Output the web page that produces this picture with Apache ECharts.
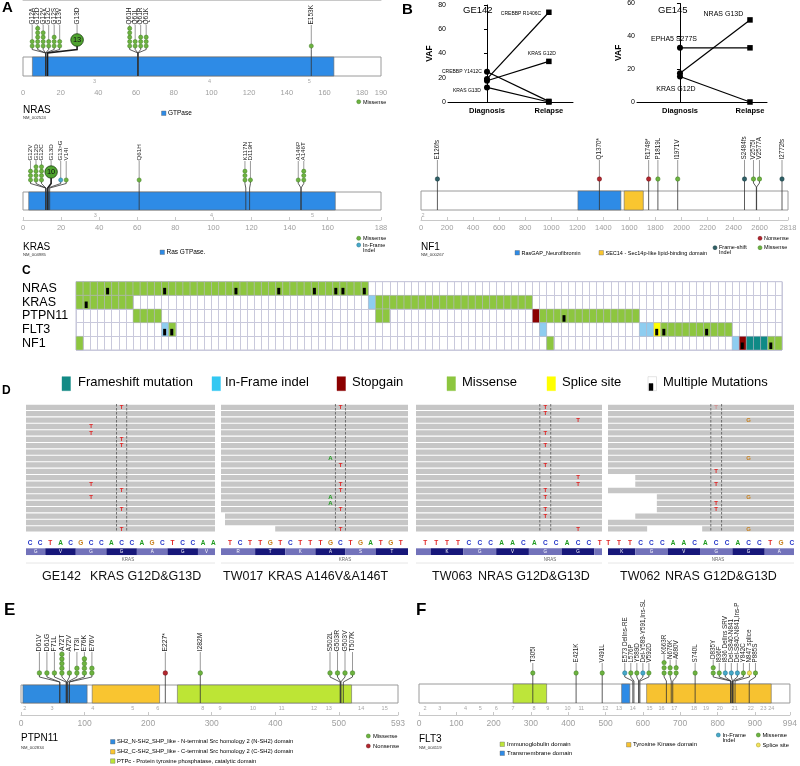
<!DOCTYPE html>
<html>
<head>
<meta charset="utf-8">
<title>RAS pathway mutations</title>
<script src="https://cdn.jsdelivr.net/npm/echarts@6.0.0/dist/echarts.min.js"></script>
<style>
  html, body { margin: 0; padding: 0; background: #fff; }
  #main { width: 800px; height: 766px; }
</style>
</head>
<body>
<div id="main"></div>
<script>
var FONT = '"Liberation Sans", Arial, sans-serif';

// ---------- A: lollipop data  [aa, label, count, type] ----------
var nrasTicks = [0, 20, 40, 60, 80, 100, 120, 140, 160, 180, 190];
var nrasDomains = [[5, 165]];
var nrasExons = [[38, '3'], [99, '4'], [152, '5']];
var nrasMutations = [
  [12, 'G12A', 2, 'mis'], [12, 'G12D', 5, 'mis'], [12, 'G12V', 4, 'mis'], [12, 'G12C', 2, 'mis'],
  [12, 'G12S', 3, 'mis'], [13, 'G13V', 2, 'mis'], [13, 'G13D', 13, 'mis'],
  [61, 'Q61H', 5, 'mis'], [61, 'Q61L', 2, 'mis'], [61, 'Q61R', 3, 'mis'], [61, 'Q61K', 3, 'mis'],
  [153, 'E153K', 1, 'mis']
];

var krasTicks = [0, 20, 40, 60, 80, 100, 120, 140, 160, 188];
var krasDomains = [[3, 164]];
var krasExons = [[38, '3'], [99, '4'], [152, '5']];
var krasMutations = [
  [12, 'G12V', 3, 'mis'], [12, 'G12D', 4, 'mis'], [12, 'G12C', 4, 'mis'], [13, 'G13D', 10, 'mis'],
  [13, 'G13>G', 1, 'inf'], [14, 'V14I', 1, 'mis'], [61, 'Q61H', 1, 'mis'],
  [117, 'K117N', 3, 'mis'], [119, 'D119H', 1, 'mis'], [146, 'A146P', 1, 'mis'], [146, 'A146T', 3, 'mis']
];

// ---------- B: NF1 + VAF ----------
var nf1Ticks = [0, 200, 400, 600, 800, 1000, 1200, 1400, 1600, 1800, 2000, 2200, 2400, 2600, 2818];
var nf1Domains = [[1205, 1535], [1560, 1707]];
var nf1Exons = [[15, '2']];
var nf1Mutations = [
  [126, 'E126fs', 1, 'fs'], [1370, 'Q1370*', 1, 'non'], [1748, 'R1748*', 1, 'non'],
  [1819, 'P1819L', 1, 'mis'], [1971, 'I1971V', 1, 'mis'], [2484, 'S2484fs', 1, 'fs'],
  [2575, 'V2575I', 1, 'mis'], [2577, 'V2577A', 1, 'mis'], [2772, 'I2772fs', 1, 'fs']
];

var timepoints = ['Diagnosis', 'Relapse'];
var ge142Names = ['CREBBP R1406C', 'KRAS G12D', 'CREBBP Y1412C', 'KRAS G13D'];
var ge142Diagnosis = [19, 17.5, 25, 12];
var ge142Relapse = [74, 33.5, 0.5, 0];
var ge145Names = ['NRAS G13D', 'EPHA5 S277S', 'KRAS G12D'];
var ge145Diagnosis = [17.5, 33, 15.5];
var ge145Relapse = [50, 33, 0];

// ---------- C: oncoprint ----------
var genes = ['NRAS', 'KRAS', 'PTPN11', 'FLT3', 'NF1'];
var sampleCount = 99;
var mutTypes = ['Frameshift mutation', 'In-Frame indel', 'Stopgain', 'Missense', 'Splice site', 'Multiple Mutations'];
// runs of samples: [first, last, type index]
var nrasRuns = [[0, 40, 3]];
var krasRuns = [[0, 7, 3], [41, 41, 1], [42, 63, 3]];
var ptpn11Runs = [[8, 11, 3], [42, 43, 3], [64, 64, 2], [65, 78, 3]];
var flt3Runs = [[12, 12, 1], [13, 13, 3], [65, 65, 1], [79, 80, 1], [81, 81, 4], [82, 91, 3]];
var nf1Runs = [[0, 0, 3], [66, 66, 3], [92, 92, 1], [93, 93, 2], [94, 96, 0], [97, 98, 3]];
var nrasMulti = [4, 12, 22, 28, 33, 36, 37, 40];
var krasMulti = [1];
var ptpn11Multi = [68];
var flt3Multi = [12, 13, 81, 82, 88];
var nf1Multi = [93, 97];

// ---------- D: read pileups ----------
var ge142Seq = 'CCTACGCCACCAGCTCCAA';
var ge142Codons = [2, 5, 8, 11, 14, 17];
var ge142Amino = ['G', 'V', 'G', 'G', 'A', 'G', 'V'];
var ge142Mismatch = [[0, 9, 'T'], [3, 6, 'T'], [4, 6, 'T'], [5, 9, 'T'], [6, 9, 'T'], [12, 6, 'T'],
  [13, 9, 'T'], [14, 6, 'T'], [16, 9, 'T'], [19, 9, 'T']];
var ge142Reads = [];

var tw017Seq = 'TCTTGTCTTTGCTGATGT';
var tw017Codons = [3, 6, 9, 12, 15];
var tw017Amino = ['R', 'T', 'K', 'A', 'S', 'T'];
var tw017Mismatch = [[0, 11, 'T'], [8, 10, 'A'], [9, 11, 'T'], [12, 11, 'T'], [13, 11, 'T'],
  [14, 10, 'A'], [15, 10, 'A'], [16, 11, 'T'], [19, 11, 'T']];
var tw017Reads = [[17, 0, null], [18, 0, null], [19, 5, null]];

var tw063Seq = 'TTTTCCCAACACCACCT';
var tw063Codons = [1, 4, 7, 10, 13, 16];
var tw063Amino = ['', 'K', 'G', 'V', 'G', 'G', ''];
var tw063Mismatch = [[0, 11, 'T'], [1, 11, 'T'], [2, 14, 'T'], [4, 11, 'T'], [6, 11, 'T'], [9, 11, 'T'],
  [11, 14, 'T'], [12, 14, 'T'], [13, 11, 'T'], [14, 11, 'T'], [16, 11, 'T'], [17, 11, 'T'], [19, 14, 'T']];
var tw063Reads = [];

var tw062Seq = 'TTTCCCAACACCACCTGC';
var tw062Codons = [3, 6, 9, 12, 15];
var tw062Amino = ['K', 'G', 'V', 'G', 'G', 'A'];
var tw062Mismatch = [[0, 10, 'T', 0.35], [2, 13, 'G'], [8, 13, 'G'], [10, 10, 'T'], [12, 10, 'T'],
  [14, 13, 'G'], [15, 10, 'T'], [16, 10, 'T'], [19, 13, 'G']];
var tw062Reads = [[11, 3, null], [12, 3, null], [14, 5, null], [15, 5, null], [16, 5, null],
  [17, 3, null], [19, null, 4.1], [19, 9.2, null]];

// ---------- E / F ----------
var ptpn11Ticks = [0, 100, 200, 300, 400, 500, 593];
var ptpn11Domains = [[3, 104], [112, 218], [246, 520]];
var ptpn11Exons = [[6, '2'], [49, '3'], [113, '4'], [176, '5'], [215, '6'], [286, '8'], [313, '9'],
  [365, '10'], [410, '11'], [461, '12'], [484, '13'], [535, '14'], [572, '15']];
var ptpn11Mutations = [
  [61, 'D61V', 1, 'mis'], [61, 'D61G', 1, 'mis'], [71, 'F71L', 1, 'mis'], [72, 'A72T', 5, 'mis'],
  [72, 'A72V', 1, 'mis'], [73, 'T73I', 2, 'mis'], [76, 'E76K', 4, 'mis'], [76, 'E76V', 2, 'mis'],
  [227, 'E227*', 1, 'non'], [282, 'I282M', 1, 'mis'], [502, 'S502L', 1, 'mis'], [503, 'G503R', 1, 'mis'],
  [503, 'G503V', 1, 'mis'], [507, 'T507K', 1, 'mis']
];

var flt3Ticks = [0, 100, 200, 300, 400, 500, 600, 700, 800, 900, 994];
var flt3Domains = [[252, 342], [543, 565], [610, 944]];
var flt3Exons = [[16, '2'], [56, '3'], [125, '4'], [164, '5'], [207, '6'], [252, '7'], [308, '8'],
  [345, '9'], [398, '10'], [435, '11'], [499, '12'], [536, '13'], [573, '14'], [618, '15'], [650, '16'],
  [684, '17'], [737, '18'], [769, '19'], [806, '20'], [846, '21'], [889, '22'], [923, '23'], [944, '24']];
var flt3Mutations = [
  [305, 'T305I', 1, 'mis'], [421, 'E421K', 1, 'mis'], [491, 'V491L', 1, 'mis'],
  [573, 'E573 DelIns-RE', 1, 'inf'], [576, 'L576P', 1, 'mis'], [589, 'Y589D', 1, 'mis'],
  [589, 'Del-Y589-Y591,Ins-SL', 1, 'inf'], [592, 'V592D', 1, 'mis'], [663, 'K663R', 3, 'mis'],
  [676, 'N676K', 2, 'mis'], [680, 'A680V', 2, 'mis'], [740, 'S740L', 1, 'mis'], [835, 'D835Y', 2, 'mis'],
  [836, 'I836F', 1, 'mis'], [836, 'I836 DelIns SRV', 1, 'inf'], [840, 'Del-S840-N841', 1, 'inf'],
  [840, 'Del-S840-N841,Ins-P', 1, 'inf'], [842, 'Y842C', 1, 'mis'], [847, 'N847 splice', 1, 'spl'],
  [885, 'P885S', 1, 'mis']
];

// ---------- styles ----------
var typeColor = { mis: '#6db33f', inf: '#46a9c9', non: '#b3262e', fs: '#2f5f66', spl: '#f2e35c' };
var typeEdge = { mis: '#3c7a20', inf: '#1f6f8a', non: '#6e1015', fs: '#15383d', spl: '#a89a20' };
var cellColor = ['#0f8a86', '#8ecdf0', '#8b0000', '#8dc63f', '#ffff00'];
var legendColor = ['#138a85', '#33c8f2', '#8b0000', '#8dc63f', '#ffff00'];
var baseColor = { A: '#1e9a1e', C: '#2233c8', G: '#c8801e', T: '#e02424' };

var grids = [], xAxes = [], yAxes = [], series = [], graphics = [];

function gText(x, y, text, size, extra) {
  var st = { text: text, fontSize: size, fontFamily: FONT, fill: '#000', align: 'left', verticalAlign: 'middle' };
  if (extra) { for (var k in extra) st[k] = extra[k]; }
  return { type: 'text', x: x, y: y, silent: true, style: st, z: 10 };
}
function gRect(x, y, w, h, fill, stroke) {
  return { type: 'rect', silent: true, z: 10, shape: { x: x, y: y, width: w, height: h },
    style: { fill: fill, stroke: stroke || '#666', lineWidth: 0.4 } };
}
function gDot(x, y, t) {
  return { type: 'circle', silent: true, z: 10, shape: { cx: x, cy: y, r: 2 },
    style: { fill: typeColor[t], stroke: typeEdge[t], lineWidth: 0.5 } };
}

// spread lollipop heads so they don't overlap (clusters centred on their natural positions)
function spreadHeads(muts, pxPerAa, cfg) {
  var items = muts.map(function (m, i) {
    var big = m[2] >= cfg.bigMin;
    return { i: i, nat: m[0] * pxPerAa, rad: big ? cfg.bigR : cfg.r, big: big };
  });
  function sep(a, b) {
    return a.rad + b.rad + ((a.big || b.big) ? cfg.bigGap : cfg.gap);
  }
  var clusters = items.map(function (it) { return { members: [it] }; });
  function place(c) {
    var offs = [0];
    for (var k = 1; k < c.members.length; k++) {
      offs.push(offs[k - 1] + sep(c.members[k - 1], c.members[k]));
    }
    var small = c.members.filter(function (m) { return !m.big; }).length > 0;
    var sn = 0, so = 0, cnt = 0;
    c.members.forEach(function (m, k) {
      if (small && m.big) return;
      sn += m.nat; so += offs[k]; cnt++;
    });
    var L = sn / cnt - so / cnt;
    c.pos = offs.map(function (o) { return L + o; });
  }
  clusters.forEach(place);
  var merged = true;
  while (merged) {
    merged = false;
    for (var k = 0; k < clusters.length - 1; k++) {
      var a = clusters[k], b = clusters[k + 1];
      var la = a.members[a.members.length - 1], fb = b.members[0];
      if (a.pos[a.pos.length - 1] + sep(la, fb) > b.pos[0] + 1e-6) {
        a.members = a.members.concat(b.members);
        place(a);
        clusters.splice(k + 1, 1);
        merged = true;
        break;
      }
    }
  }
  var out = [];
  clusters.forEach(function (c) {
    c.members.forEach(function (m, k) { out[m.i] = c.pos[k] / pxPerAa; });
  });
  return out;
}

function addLollipop(cfg) {
  var g = grids.length;
  grids.push({ left: cfg.left, top: cfg.top, width: cfg.width, height: cfg.axisY - cfg.top });
  xAxes.push({
    type: 'value', gridIndex: g, min: 0, max: cfg.len,
    axisLine: { show: true, lineStyle: { color: '#c8c8c8', width: 1 } },
    axisTick: { show: true, inside: true, length: 3, lineStyle: { color: '#c8c8c8' }, customValues: cfg.ticks },
    axisLabel: { show: true, color: '#a0a0a0', fontSize: cfg.tickFs, fontFamily: FONT, margin: 4,
      customValues: cfg.ticks, formatter: function (v) { return String(v); } },
    splitLine: { show: false }
  });
  yAxes.push({ type: 'value', gridIndex: g, min: cfg.top, max: cfg.axisY, inverse: true, show: false });

  // protein backbone
  series.push({
    type: 'custom', xAxisIndex: g, yAxisIndex: g, z: 2, silent: true,
    data: [[0, cfg.len, cfg.barTop]], encode: { x: [0, 1], y: 2 },
    renderItem: function (params, api) {
      var p0 = api.coord([api.value(0), cfg.barTop]);
      var p1 = api.coord([api.value(1), cfg.barBot]);
      return { type: 'rect', shape: { x: p0[0], y: p0[1], width: p1[0] - p0[0], height: p1[1] - p0[1] },
        style: { fill: '#fff', stroke: '#9a9a9a', lineWidth: 1 } };
    }
  });
  // domains
  series.push({
    type: 'custom', xAxisIndex: g, yAxisIndex: g, z: 3, silent: true,
    data: cfg.domains.map(function (d, i) { return [d[0], d[1], cfg.barTop, i]; }),
    encode: { x: [0, 1], y: 2 },
    renderItem: function (params, api) {
      var p0 = api.coord([api.value(0), cfg.barTop]);
      var p1 = api.coord([api.value(1), cfg.barBot]);
      return { type: 'rect', shape: { x: p0[0], y: p0[1], width: p1[0] - p0[0], height: p1[1] - p0[1] },
        style: { fill: cfg.domainColors[api.value(3)], stroke: '#6a6a6a', lineWidth: 0.6 } };
    }
  });
  // exon numbers
  series.push({
    type: 'custom', xAxisIndex: g, yAxisIndex: g, z: 3, silent: true,
    data: cfg.exons.map(function (e, i) { return [e[0], cfg.exonY, i]; }),
    encode: { x: 0, y: 1 },
    renderItem: function (params, api) {
      var p = api.coord([api.value(0), cfg.exonY]);
      return { type: 'text', x: p[0], y: p[1],
        style: { text: cfg.exons[api.value(2)][1], fontSize: 5.5, fontFamily: FONT, fill: '#a8a8a8',
          align: 'center', verticalAlign: 'middle' } };
    }
  });
  // mutations
  var heads = spreadHeads(cfg.muts, cfg.width / cfg.len, cfg);
  series.push({
    type: 'custom', xAxisIndex: g, yAxisIndex: g, z: 4, silent: true,
    data: cfg.muts.map(function (m, i) { return [m[0], heads[i], i, cfg.headBase]; }),
    encode: { x: [0, 1], y: 3 },
    renderItem: function (params, api) {
      var i = api.value(2);
      var m = cfg.muts[i];
      var big = m[2] >= cfg.bigMin;
      var rr = big ? cfg.bigR : cfg.r;
      var topY = big ? cfg.headBase - cfg.bigUp : cfg.headBase - (m[2] - 1) * cfg.step;
      var lb = Math.min(cfg.labelBottom, topY - rr - cfg.labelGap);
      var pBar = api.coord([m[0], cfg.barBot]);
      var pEl = api.coord([m[0], cfg.diagBot]);
      var pDg = api.coord([heads[i], cfg.diagTop]);
      var pHd = api.coord([heads[i], big ? topY : cfg.headBase]);
      var pLb = api.coord([heads[i], lb]);
      var pTp = api.coord([heads[i], topY]);
      var kids = [
        { type: 'polyline', shape: { points: [pBar, pEl, pDg, pHd] },
          style: { stroke: big ? '#1a1a1a' : '#333', lineWidth: big ? 1.6 : 0.8, fill: null } },
        { type: 'line', shape: { x1: pTp[0], y1: pTp[1], x2: pLb[0], y2: pLb[1] },
          style: { stroke: '#555', lineWidth: 0.6 } }
      ];
      if (big) {
        kids.push({ type: 'circle', shape: { cx: pTp[0], cy: pTp[1], r: cfg.bigR },
          style: { fill: '#4fa32f', stroke: '#1c3f10', lineWidth: 0.8 } });
        kids.push({ type: 'text', x: pTp[0], y: pTp[1],
          style: { text: String(m[2]), fontSize: 7.5, fontFamily: FONT, fill: '#111', align: 'center', verticalAlign: 'middle' } });
      } else {
        for (var k = 0; k < m[2]; k++) {
          var c = api.coord([heads[i], cfg.headBase - k * cfg.step]);
          kids.push({ type: 'circle', shape: { cx: c[0], cy: c[1], r: cfg.r },
            style: { fill: typeColor[m[3]], stroke: typeEdge[m[3]], lineWidth: 0.5 } });
        }
      }
      kids.push({ type: 'text', x: pLb[0], y: pLb[1] - 0.5, rotation: Math.PI / 2,
        style: { text: m[1], fontSize: cfg.fs, fontFamily: FONT, fill: '#222', align: 'left', verticalAlign: 'middle' } });
      return { type: 'group', children: kids };
    }
  });
}

addLollipop({ muts: nrasMutations, domains: nrasDomains, exons: nrasExons, ticks: nrasTicks, len: 190,
  left: 23, width: 358, top: 0, axisY: 85, barTop: 57, barBot: 76, headBase: 46, r: 2.1, step: 4.4, gap: 1.3,
  bigGap: 9, labelBottom: 25, labelGap: 0.5, diagTop: 49.5, diagBot: 53, exonY: 81, bigMin: 8, bigR: 6.3, bigUp: 6,
  fs: 6.5, tickFs: 7.5, domainColors: ['#2e8be6'] });
addLollipop({ muts: krasMutations, domains: krasDomains, exons: krasExons, ticks: krasTicks, len: 188,
  left: 23, width: 358, top: 120, axisY: 220, barTop: 192, barBot: 210, headBase: 180, r: 2.1, step: 4.4, gap: 1.3,
  bigGap: 1.3, labelBottom: 161, labelGap: 1.5, diagTop: 183.5, diagBot: 188, exonY: 215.5, bigMin: 8, bigR: 6.2, bigUp: 8,
  fs: 6.2, tickFs: 7.5, domainColors: ['#2e8be6'] });
addLollipop({ muts: nf1Mutations, domains: nf1Domains, exons: nf1Exons, ticks: nf1Ticks, len: 2818,
  left: 421, width: 367, top: 120, axisY: 220, barTop: 191, barBot: 210, headBase: 179, r: 2.2, step: 4.4, gap: 1.6,
  bigGap: 1.6, labelBottom: 160, labelGap: 1.5, diagTop: 183, diagBot: 187, exonY: 215, bigMin: 8, bigR: 6, bigUp: 7,
  fs: 6.3, tickFs: 7.5, domainColors: ['#2e8be6', '#f9c630'] });
addLollipop({ muts: ptpn11Mutations, domains: ptpn11Domains, exons: ptpn11Exons, ticks: ptpn11Ticks, len: 593,
  left: 21, width: 377, top: 585, axisY: 715, barTop: 685, barBot: 703, headBase: 673, r: 2.3, step: 4.7, gap: 2.9,
  bigGap: 2.9, labelBottom: 652, labelGap: 0.5, diagTop: 677, diagBot: 682, exonY: 708, bigMin: 8, bigR: 6, bigUp: 7,
  fs: 6.8, tickFs: 8.5, domainColors: ['#2f8be0', '#f9c530', '#bde535'] });
addLollipop({ muts: flt3Mutations, domains: flt3Domains, exons: flt3Exons, ticks: flt3Ticks, len: 994,
  left: 419, width: 375, top: 585, axisY: 715, barTop: 684, barBot: 703, headBase: 673, r: 2.2, step: 5.2, gap: 1.7,
  bigGap: 1.7, labelBottom: 663, labelGap: 6, diagTop: 677, diagBot: 681, exonY: 708, bigMin: 8, bigR: 6, bigUp: 7,
  fs: 6.3, tickFs: 8.5, domainColors: ['#bde53a', '#2e8be6', '#f7c230'] });

// ---------- B: VAF plots ----------
function addVaf(cfg) {
  var g = grids.length;
  grids.push({ left: cfg.left, top: cfg.top, width: cfg.width, height: cfg.height });
  xAxes.push({
    type: 'value', gridIndex: g, min: cfg.xmin, max: cfg.xmax,
    axisLine: { show: true, onZero: false, lineStyle: { color: '#000', width: 1 } },
    axisTick: { show: false },
    axisLabel: { show: true, customValues: [0, 1], margin: 5, fontSize: 7.5, fontWeight: 'bold', color: '#000',
      fontFamily: FONT, formatter: function (v) { return timepoints[Math.round(v)]; } },
    splitLine: { show: false }
  });
  yAxes.push({
    type: 'value', gridIndex: g, min: 0, max: cfg.ymax, interval: 20,
    axisLine: { show: true, lineStyle: { color: '#000', width: 1 } },
    axisTick: { show: true, length: 3, lineStyle: { color: '#000' } },
    axisLabel: { fontSize: 7, color: '#000', margin: 2, fontFamily: FONT },
    splitLine: { show: false },
    name: 'VAF', nameLocation: 'middle', nameGap: 13,
    nameTextStyle: { fontWeight: 'bold', fontSize: 8.5, color: '#000', fontFamily: FONT }
  });
  cfg.names.forEach(function (nm, i) {
    var lc = cfg.labels[i];
    var pts = [[0, cfg.diag[i]], [1, cfg.rel[i]]].map(function (v, k) {
      var item = { value: v, symbol: k === 0 ? 'circle' : 'rect', symbolSize: k === 0 ? 6 : 5.5 };
      if (k === lc.pt) {
        item.label = { show: true, formatter: nm, position: lc.pos, offset: lc.off, distance: lc.dist,
          fontSize: cfg.fs, color: '#000', fontFamily: FONT };
      }
      return item;
    });
    series.push({ type: 'line', xAxisIndex: g, yAxisIndex: g, data: pts, z: 5, silent: true,
      lineStyle: { color: '#000', width: 1.2 }, itemStyle: { color: '#000' }, label: { show: false } });
  });
  graphics.push(gText(cfg.titleX, cfg.titleY, cfg.title, 9.5));
}
addVaf({ left: 448, top: 5, width: 125, height: 97, xmin: -0.63, xmax: 1.39, ymax: 80,
  names: ge142Names, diag: ge142Diagnosis, rel: ge142Relapse, fs: 5, title: 'GE142', titleX: 463, titleY: 10,
  labels: [
    { pt: 1, pos: 'left', off: [0, 1], dist: 5 },
    { pt: 1, pos: 'top', off: [-7, 0], dist: 3 },
    { pt: 0, pos: 'left', off: [0, 0], dist: 2 },
    { pt: 0, pos: 'left', off: [0, 3], dist: 3 }
  ] });
addVaf({ left: 637, top: 3, width: 130, height: 99, xmin: -0.614, xmax: 1.243, ymax: 60,
  names: ge145Names, diag: ge145Diagnosis, rel: ge145Relapse, fs: 7, title: 'GE145', titleX: 658, titleY: 10,
  labels: [
    { pt: 1, pos: 'left', off: [0, -6], dist: 4 },
    { pt: 0, pos: 'top', off: [-6, 0], dist: 2 },
    { pt: 0, pos: 'bottom', off: [-4, 3], dist: 3 }
  ] });

// ---------- C: oncoprint ----------
(function () {
  var g = grids.length;
  grids.push({ left: 76, top: 281.7, width: 706, height: 68.3, show: true, borderColor: '#c4c4d6', borderWidth: 1 });
  xAxes.push({ type: 'value', gridIndex: g, min: 0, max: sampleCount, interval: 1,
    axisLine: { show: false }, axisTick: { show: false }, axisLabel: { show: false },
    splitLine: { show: true, lineStyle: { color: '#c9c9dc', width: 1 } } });
  yAxes.push({ type: 'category', gridIndex: g, data: genes, inverse: true,
    axisLine: { show: false }, axisTick: { show: false },
    axisLabel: { interval: 0, align: 'left', margin: 54, fontSize: 12.5, color: '#000', fontFamily: FONT },
    splitLine: { show: true, interval: 0, lineStyle: { color: '#c9c9dc', width: 1 } } });
  var runs = [nrasRuns, krasRuns, ptpn11Runs, flt3Runs, nf1Runs];
  var multis = [nrasMulti, krasMulti, ptpn11Multi, flt3Multi, nf1Multi];
  var cells = [], marks = [];
  runs.forEach(function (rs, gi) {
    rs.forEach(function (r) { for (var c = r[0]; c <= r[1]; c++) cells.push([c, gi, r[2]]); });
  });
  multis.forEach(function (ms, gi) { ms.forEach(function (c) { marks.push([c, gi]); }); });
  series.push({ type: 'custom', xAxisIndex: g, yAxisIndex: g, z: 3, silent: true, data: cells,
    encode: { x: 0, y: 1 },
    renderItem: function (params, api) {
      var p = api.coord([api.value(0), api.value(1)]);
      var sz = api.size([1, 1]);
      return { type: 'rect', shape: { x: p[0], y: p[1] - sz[1] / 2, width: sz[0], height: sz[1] },
        style: { fill: cellColor[api.value(2)], stroke: '#b4b4c4', lineWidth: 0.5 } };
    } });
  series.push({ type: 'custom', xAxisIndex: g, yAxisIndex: g, z: 4, silent: true, data: marks,
    encode: { x: 0, y: 1 },
    renderItem: function (params, api) {
      var p = api.coord([api.value(0), api.value(1)]);
      var sz = api.size([1, 1]);
      return { type: 'rect', shape: { x: p[0] + sz[0] * 0.22, y: p[1] - sz[1] * 0.05, width: sz[0] * 0.42, height: sz[1] * 0.48 },
        style: { fill: '#000' } };
    } });
  // legend
  var lx = [[62, 78], [212, 225], [337, 352], [447, 462], [547, 562], [648, 663]];
  mutTypes.forEach(function (t, i) {
    if (i < 5) {
      graphics.push(gRect(lx[i][0], 376.7, 8.5, 14, legendColor[i], legendColor[i]));
    } else {
      graphics.push(gRect(lx[i][0], 376.7, 8.5, 14, '#fff', '#bbb'));
      graphics.push(gRect(lx[i][0] + 1, 383.5, 4, 7, '#000', '#000'));
    }
    graphics.push(gText(lx[i][1], 382, t, 13));
  });
})();

// ---------- D: read pileups ----------
var snapshots = [
  { seq: ge142Seq, codons: ge142Codons, amino: ge142Amino, mism: ge142Mismatch, reads: ge142Reads, site: 9,
    left: 26, right: 215, base0: 24.9, bw: 10.18, darkFirst: false, gene: 'KRAS', geneX: 128,
    sample: 'GE142', caption: 'KRAS G12D&G13D', capX: 42, capX2: 90 },
  { seq: tw017Seq, codons: tw017Codons, amino: tw017Amino, mism: tw017Mismatch, reads: tw017Reads, site: 11,
    left: 221, right: 408, base0: 225, bw: 10.04, darkFirst: false, gene: 'KRAS', geneX: 345,
    sample: 'TW017', caption: 'KRAS A146V&A146T', capX: 223, capX2: 268 },
  { seq: tw063Seq, codons: tw063Codons, amino: tw063Amino, mism: tw063Mismatch, reads: tw063Reads, site: 11,
    left: 416, right: 602, base0: 419.8, bw: 10.91, darkFirst: false, gene: 'NRAS', geneX: 550,
    sample: 'TW063', caption: 'NRAS G12D&G13D', capX: 432, capX2: 478 },
  { seq: tw062Seq, codons: tw062Codons, amino: tw062Amino, mism: tw062Mismatch, reads: tw062Reads, site: 10,
    left: 608, right: 794, base0: 602.9, bw: 10.79, darkFirst: true, gene: 'NRAS', geneX: 718,
    sample: 'TW062', caption: 'NRAS G12D&G13D', capX: 620, capX2: 665 }
];
var READ_ROWS = 20, SEQ_ROW = 21.77, AA_TOP = 22.55, AA_BOT = 23.6;
snapshots.forEach(function (s) {
  var g = grids.length;
  var xmin = (s.left - s.base0) / s.bw, xmax = (s.right - s.base0) / s.bw;
  grids.push({ left: s.left, top: 404, width: s.right - s.left, height: 160 });
  xAxes.push({ type: 'value', gridIndex: g, min: xmin, max: xmax, show: false });
  yAxes.push({ type: 'value', gridIndex: g, min: 0, max: 25, inverse: true, show: false });
  var segs = [];
  for (var r = 0; r < READ_ROWS; r++) {
    var ex = s.reads.filter(function (e) { return e[0] === r; });
    if (!ex.length) segs.push([r, xmin, xmax]);
    ex.forEach(function (e) { segs.push([r, e[1] === null ? xmin : e[1], e[2] === null ? xmax : e[2]]); });
  }
  series.push({ type: 'custom', xAxisIndex: g, yAxisIndex: g, z: 2, silent: true, data: segs,
    encode: { x: [1, 2], y: 0 },
    renderItem: function (params, api) {
      var p0 = api.coord([api.value(1), api.value(0) + 0.1]);
      var p1 = api.coord([api.value(2), api.value(0) + 0.93]);
      return { type: 'rect', shape: { x: p0[0], y: p0[1], width: p1[0] - p0[0], height: p1[1] - p0[1] },
        style: { fill: '#c6c6c6' } };
    } });
  series.push({ type: 'custom', xAxisIndex: g, yAxisIndex: g, z: 3, silent: true,
    data: [[s.site, s.site + 1, 0]], encode: { x: [0, 1], y: 2 },
    renderItem: function (params, api) {
      var kids = [api.value(0), api.value(1)].map(function (b) {
        var a = api.coord([b, 0]), c = api.coord([b, READ_ROWS]);
        return { type: 'line', shape: { x1: a[0], y1: a[1], x2: c[0], y2: c[1] },
          style: { stroke: '#555', lineWidth: 0.8, lineDash: [2.5, 1.5] } };
      });
      return { type: 'group', children: kids };
    } });
  series.push({ type: 'custom', xAxisIndex: g, yAxisIndex: g, z: 4, silent: true,
    data: s.mism.map(function (m, i) { return [m[1] + 0.5, m[0] + 0.52, i]; }), encode: { x: 0, y: 1 },
    renderItem: function (params, api) {
      var m = s.mism[api.value(2)];
      var p = api.coord([api.value(0), api.value(1)]);
      return { type: 'text', x: p[0], y: p[1],
        style: { text: m[2], fontSize: 6, fontWeight: 'bold', fontFamily: FONT, fill: baseColor[m[2]],
          opacity: m.length > 3 ? m[3] : 1, align: 'center', verticalAlign: 'middle' } };
    } });
  series.push({ type: 'custom', xAxisIndex: g, yAxisIndex: g, z: 4, silent: true,
    data: s.seq.split('').map(function (b, i) { return [i + 0.5, SEQ_ROW, i]; }), encode: { x: 0, y: 1 },
    renderItem: function (params, api) {
      var b = s.seq.charAt(api.value(2));
      var p = api.coord([api.value(0), SEQ_ROW]);
      return { type: 'text', x: p[0], y: p[1],
        style: { text: b, fontSize: 6.5, fontWeight: 'bold', fontFamily: FONT, fill: baseColor[b],
          align: 'center', verticalAlign: 'middle' } };
    } });
  var bounds = [xmin].concat(s.codons).concat([xmax]);
  series.push({ type: 'custom', xAxisIndex: g, yAxisIndex: g, z: 4, silent: true,
    data: s.amino.map(function (a, k) { return [bounds[k], bounds[k + 1], k, AA_TOP]; }),
    encode: { x: [0, 1], y: 3 },
    renderItem: function (params, api) {
      var k = api.value(2);
      var p0 = api.coord([api.value(0), AA_TOP]), p1 = api.coord([api.value(1), AA_BOT]);
      var dark = (k + (s.darkFirst ? 0 : 1)) % 2 === 0;
      return { type: 'group', children: [
        { type: 'rect', shape: { x: p0[0], y: p0[1], width: p1[0] - p0[0], height: p1[1] - p0[1] },
          style: { fill: dark ? '#17177a' : '#7272ba' } },
        { type: 'text', x: (p0[0] + p1[0]) / 2, y: (p0[1] + p1[1]) / 2,
          style: { text: s.amino[k], fontSize: 4.5, fontFamily: FONT, fill: '#fff', align: 'center', verticalAlign: 'middle' } }
      ] };
    } });
  graphics.push(gText(s.geneX, 559.5, s.gene, 4.5, { fill: '#666', align: 'center' }));
  graphics.push({ type: 'line', silent: true, z: 10, shape: { x1: s.left, y1: 563, x2: s.right, y2: 563 },
    style: { stroke: '#e6e6e6', lineWidth: 1 } });
  graphics.push(gText(s.capX, 577, s.sample, 12.5, { fill: '#111' }));
  graphics.push(gText(s.capX2, 577, s.caption, 12.5, { fill: '#111' }));
});

// ---------- panel letters, gene names, legends ----------
var bold = { fontWeight: 'bold' };
graphics.push(gText(2, 8, 'A', 15, bold), gText(402, 10, 'B', 15, bold), gText(22, 271, 'C', 12, bold),
  gText(2, 391, 'D', 12, bold), gText(4, 610, 'E', 17, bold), gText(416, 610, 'F', 17, bold));

graphics.push(gText(23, 110, 'NRAS', 10), gText(23, 117.5, 'NM_002524', 4.2, { fill: '#333' }),
  gRect(161.5, 111, 4.5, 4.5, '#2e8be6'), gText(168, 113.3, 'GTPase', 6.5),
  gDot(358.7, 101.7, 'mis'), gText(363, 102, 'Missense', 5.5));
graphics.push(gText(23, 247, 'KRAS', 10), gText(23, 254.5, 'NM_004985', 4.2, { fill: '#333' }),
  gRect(160, 250, 4.5, 4.5, '#2e8be6'), gText(166.5, 252.3, 'Ras GTPase.', 6.5),
  gDot(358.7, 238.3, 'mis'), gText(363, 238.5, 'Missense', 5.5),
  gDot(358.7, 245, 'inf'), gText(363, 245, 'In-Frame', 5.5), gText(363, 250.5, 'Indel', 5.5));
graphics.push(gText(421, 247, 'NF1', 10), gText(421, 254.5, 'NM_000267', 4.2, { fill: '#333' }),
  gRect(515, 250.5, 4.5, 4.5, '#2e8be6'), gText(521.5, 253, 'RasGAP_Neurofibromin', 5.5),
  gRect(599, 250.5, 4.5, 4.5, '#f9c630'), gText(605.5, 253, 'SEC14 - Sec14p-like lipid-binding domain', 5.5),
  gDot(715, 247.7, 'fs'), gText(719, 247.7, 'Frame-shift', 5.5), gText(719, 252.7, 'Indel', 5.5),
  gDot(760, 238.3, 'non'), gText(764, 238.3, 'Nonsense', 5.5),
  gDot(760, 247.7, 'mis'), gText(764, 247.7, 'Missense', 5.5));
graphics.push(gText(21, 738, 'PTPN11', 10), gText(21, 747.5, 'NM_002834', 4.2, { fill: '#333' }),
  gRect(110.5, 739.5, 4.5, 4.5, '#2f8be0'),
  gText(117, 741.7, 'SH2_N-SH2_SHP_like - N-terminal Src homology 2 (N-SH2) domain', 5.8),
  gRect(110.5, 749.5, 4.5, 4.5, '#f9c530'),
  gText(117, 751.7, 'SH2_C-SH2_SHP_like - C-terminal Src homology 2 (C-SH2) domain', 5.8),
  gRect(110.5, 758.8, 4.5, 4.5, '#bde535'),
  gText(117, 761, 'PTPc - Protein tyrosine phosphatase, catalytic domain', 5.8),
  gDot(368.3, 736, 'mis'), gText(373, 736, 'Missense', 5.8),
  gDot(368.3, 746, 'non'), gText(373, 746, 'Nonsense', 5.8));
graphics.push(gText(419, 739, 'FLT3', 10), gText(419, 747.5, 'NM_004119', 4.2, { fill: '#333' }),
  gRect(500, 742, 4.5, 4.5, '#bde53a'), gText(507, 744.3, 'Immunoglobulin domain', 6),
  gRect(500, 751, 4.5, 4.5, '#2e8be6'), gText(507, 753.3, 'Transmembrane domain', 6),
  gRect(626.5, 742.5, 4.5, 4.5, '#f7c230'), gText(633, 744.8, 'Tyrosine Kinase domain', 6),
  gDot(718.3, 735, 'inf'), gText(722.5, 735, 'In-Frame', 5.8), gText(722.5, 740.5, 'Indel', 5.8),
  gDot(758.3, 735, 'mis'), gText(762.5, 735, 'Missense', 5.8),
  gDot(758.3, 745, 'spl'), gText(762.5, 745, 'Splice site', 5.8));

var chart = echarts.init(document.getElementById('main'));
chart.setOption({
  animation: false,
  backgroundColor: '#fff',
  textStyle: { fontFamily: FONT },
  grid: grids,
  xAxis: xAxes,
  yAxis: yAxes,
  series: series,
  graphic: { elements: graphics }
});
</script>
</body>
</html>
